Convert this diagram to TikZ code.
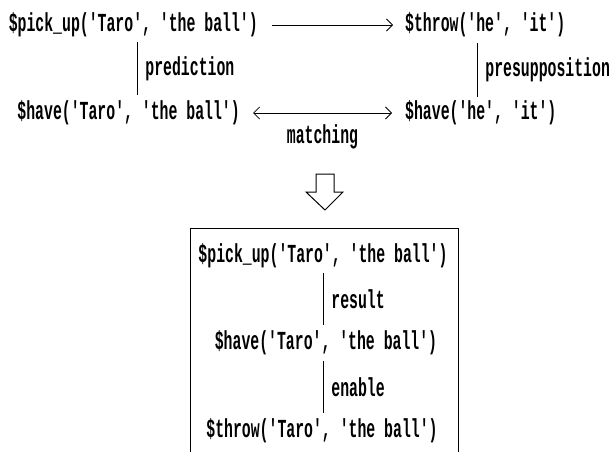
\documentclass[tikz,border=0pt]{standalone}
\usepackage{fontspec}
\newfontfamily\predfont[FakeStretch=0.57]{Liberation Mono}
\usetikzlibrary{arrows.meta}

\begin{document}
\begin{tikzpicture}[x=1pt,y=1pt]

\tikzset{pred/.style = {inner sep=0pt, font=\predfont\bfseries\fontsize{26}{26}\selectfont}}
\tikzset{rel/.style = {pred, right=8pt}}
\tikzset{edge/.style = {-{Straight Barb[length=6pt,width=12pt]}, line width=0.8pt}}
\tikzset{link/.style = {line width=0.8pt}}
\useasboundingbox (0,0) rectangle (613,-452);
%upper part
\node[pred, anchor=east] (pickA) at (258,-25) {\$pick\_up('Taro', 'the ball')};
\node[pred, anchor=west] (throwA) at (405,-25) {\$throw('he', 'it')};
\node[pred, anchor=east] (haveA) at (240,-113) {\$have('Taro', 'the ball')};
\node[pred, anchor=west] (haveB) at (405,-113) {\$have('he', 'it')};
\coordinate (predT) at (137,-42);
\coordinate (predB) at (137,-95);
\coordinate (presT) at (477,-43);
\coordinate (presB) at (477,-97);
\draw [edge] ([xshift=14pt]pickA.east) -- ([xshift=-12pt]throwA.west);
\draw [edge, {Straight Barb[length=6pt,width=12pt]}-{Straight Barb[length=6pt,width=12pt]}] ([xshift=13pt]haveA.east) -- ([xshift=-13pt]haveB.west) node [midway, below=11pt, pred] (match) {matching};
\draw [link] (predT) -- (predB) node [midway, rel] {prediction};
\draw [link] (presT) -- (presB) node [midway, rel] {presupposition};
%hollow arrow
\draw [line width=1pt] (316,-174) -- (334,-174) -- (334,-192) -- (343,-192) -- (325,-210) -- (306,-192) -- (316,-192) -- cycle;
%lower part
\draw [link] (190,-228) rectangle (458,-470);
\node[pred] (pickC) at (323,-256) {\$pick\_up('Taro', 'the ball')};
\node[pred] (haveC) at (326,-343) {\$have('Taro', 'the ball')};
\node[pred] (throwC) at (322,-431) {\$throw('Taro', 'the ball')};
\coordinate (resT) at (323,-273);
\coordinate (resB) at (323,-325);
\coordinate (enaT) at (323,-361);
\coordinate (enaB) at (323,-413);
\draw [link] (resT) -- (resB) node [midway, rel] {result};
\draw [link] (enaT) -- (enaB) node [midway, rel] {enable};

\end{tikzpicture}
\end{document}
